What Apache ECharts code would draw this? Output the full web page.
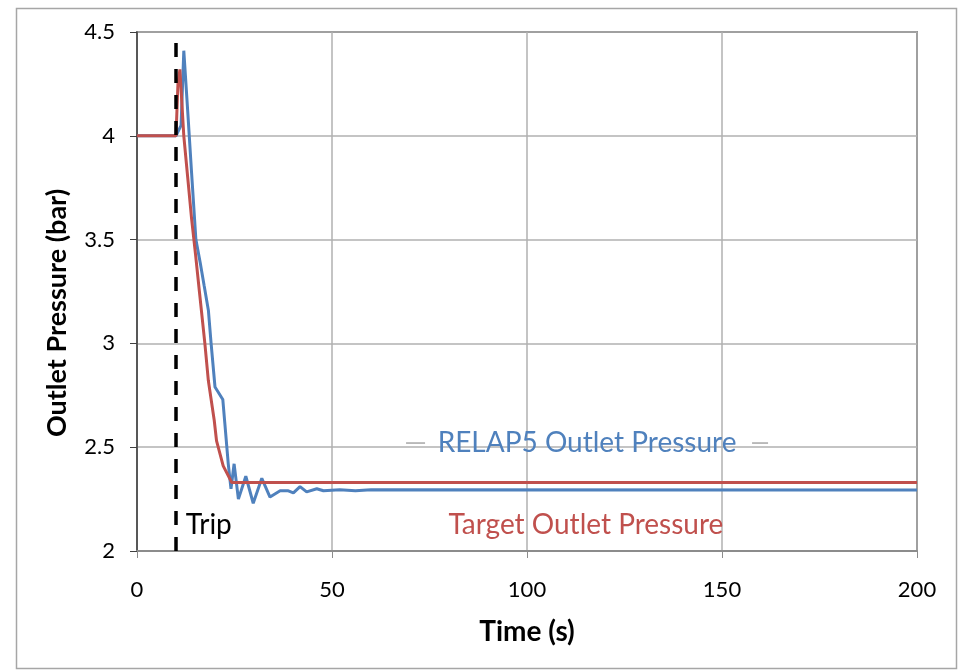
<!DOCTYPE html>
<html>
<head>
<meta charset="utf-8">
<script src="https://cdn.jsdelivr.net/npm/echarts@6/dist/echarts.min.js"></script>
<style>
html,body{margin:0;padding:0;background:#fff;}
#c{width:959px;height:670px;}
</style>
</head>
<body>
<div id="c"></div>
<script>
// ---- data ----
const relapTime  = [0, 10, 11.3, 12, 13, 14, 15.1, 16.2, 17.2, 18.3, 19.0, 20.0, 22.0, 22.5, 23.4, 24.1, 24.9, 26.0, 27.9, 29.8, 32.0, 34.1, 36.7, 38.8, 40.1, 41.8, 43.5, 46.1, 47.8, 52, 56, 60, 200];
const relapValue = [4.0, 4.0, 4.05, 4.41, 4.12, 3.82, 3.5, 3.39, 3.28, 3.16, 3.0, 2.79, 2.73, 2.62, 2.42, 2.30, 2.42, 2.25, 2.36, 2.23, 2.35, 2.26, 2.29, 2.29, 2.28, 2.31, 2.285, 2.30, 2.29, 2.295, 2.29, 2.295, 2.294];
const targetTime  = [0, 10, 10.5, 11, 12, 13, 14, 15, 16, 17.4, 18.3, 19.8, 20.4, 22.1, 24.3, 200];
const targetValue = [4.0, 4.0, 4.25, 4.32, 4.0, 3.8, 3.6, 3.43, 3.25, 3.0, 2.82, 2.63, 2.53, 2.41, 2.33, 2.33];
const tripTime = 10;
const xTicks = [0, 50, 100, 150, 200];
const yTicks = [2, 2.5, 3, 3.5, 4, 4.5];
const seriesNames = ['RELAP5 Outlet Pressure', 'Target Outlet Pressure'];
const tripLabel = 'Trip';
const yTitle = 'Outlet Pressure (bar)';
const xTitle = 'Time (s)';

const BLUE = '#4F81BD', RED = '#C0504D';
const FONT = 'Lato, "Open Sans", sans-serif';

const zip = (a, b) => a.map((v, i) => [v, b[i]]);

const chart = echarts.init(document.getElementById('c'), null, {renderer: 'canvas'});
const option = {
  animation: false,
  backgroundColor: '#fff',
  grid: {left: 137, right: 42, top: 32, bottom: 119, show: true, borderColor: '#404040', borderWidth: 1.5, backgroundColor: 'transparent'},
  xAxis: {
    type: 'value', min: xTicks[0], max: xTicks[xTicks.length - 1], interval: 50,
    name: xTitle, nameLocation: 'middle', nameGap: 67,
    nameTextStyle: {fontFamily: FONT, fontSize: 28, fontWeight: 'bold', color: '#000'},
    axisLine: {lineStyle: {color: '#8c8c8c', width: 2}},
    axisTick: {show: true, inside: false, length: 7, lineStyle: {color: '#8c8c8c', width: 1}},
    axisLabel: {margin: 28, fontFamily: FONT, fontSize: 22, color: '#000'},
    splitLine: {show: true, lineStyle: {color: '#b0b0b0', width: 1.5}}
  },
  yAxis: {
    type: 'value', min: yTicks[0], max: yTicks[yTicks.length - 1], interval: 0.5,
    axisLine: {show: true, lineStyle: {color: '#404040', width: 1.5}},
    axisTick: {show: true, inside: false, length: 7, lineStyle: {color: '#404040', width: 1}},
    axisLabel: {margin: 22, fontFamily: FONT, fontSize: 22, color: '#000'},
    splitLine: {show: true, lineStyle: {color: '#b0b0b0', width: 1.5}}
  },
  series: [
    {
      name: seriesNames[0], type: 'line', data: zip(relapTime, relapValue),
      showSymbol: false, symbol: 'none', lineStyle: {color: BLUE, width: 3}, z: 3
    },
    {
      name: seriesNames[1], type: 'line', data: zip(targetTime, targetValue),
      showSymbol: false, symbol: 'none', lineStyle: {color: RED, width: 3}, z: 4,
      markLine: {
        silent: true, symbol: 'none', label: {show: false},
        lineStyle: {color: '#000', width: 3.5, type: [14, 12]},
        data: [{xAxis: tripTime}]
      }
    }
  ]
};
chart.setOption(option);

const px = (x, y) => chart.convertToPixel({gridIndex: 0}, [x, y]);
const pBlue = px(115.4, 2.52);
const pRed = px(115.1, 2.125);
const pTrip = px(12.5, 2.125);
const halfW = 149;
chart.setOption({
  graphic: [
    {type: 'rect', left: 14, top: 6, shape: {width: 940, height: 660}, style: {fill: 'none', stroke: '#a6a6a6', lineWidth: 1.5}, z: -1, silent: true},
    {type: 'text', x: 57, y: 313, rotation: Math.PI / 2, style: {text: yTitle, fill: '#000', font: 'bold 27px ' + FONT, textAlign: 'center', textVerticalAlign: 'middle'}, z: 10},
    {type: 'text', x: pBlue[0], y: pBlue[1], style: {text: seriesNames[0], fill: BLUE, font: '28px ' + FONT, textAlign: 'center', textVerticalAlign: 'middle'}, z: 10},
    {type: 'line', shape: {x1: pBlue[0] - halfW - 32, y1: pBlue[1], x2: pBlue[0] - halfW - 13, y2: pBlue[1]}, style: {stroke: '#a6a6a6', lineWidth: 1.5}, z: 10},
    {type: 'line', shape: {x1: pBlue[0] + halfW + 16, y1: pBlue[1], x2: pBlue[0] + halfW + 32, y2: pBlue[1]}, style: {stroke: '#a6a6a6', lineWidth: 1.5}, z: 10},
    {type: 'text', x: pRed[0], y: pRed[1], style: {text: seriesNames[1], fill: RED, font: '28px ' + FONT, textAlign: 'center', textVerticalAlign: 'middle'}, z: 10},
    {type: 'text', x: pTrip[0], y: pTrip[1], style: {text: tripLabel, fill: '#000', font: '28px ' + FONT, textAlign: 'left', textVerticalAlign: 'middle'}, z: 10}
  ]
});
</script>
</body>
</html>
